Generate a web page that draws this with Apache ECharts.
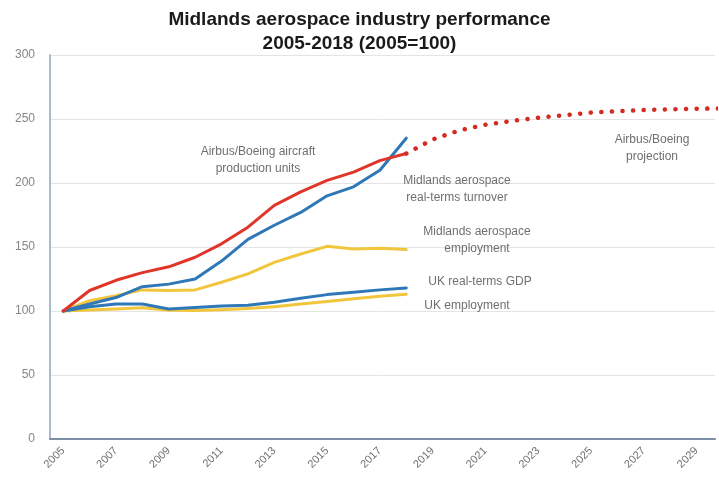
<!DOCTYPE html>
<html>
<head>
<meta charset="utf-8">
<script src="https://cdn.jsdelivr.net/npm/echarts@6/dist/echarts.min.js"></script>
<style>html,body{margin:0;padding:0;background:#fff}#c{width:719px;height:482px}</style>
</head>
<body>
<div id="c"></div>
<script>
var years = [2005,2006,2007,2008,2009,2010,2011,2012,2013,2014,2015,2016,2017,2018];
var projYears = [2018,2019,2020,2021,2022,2023,2024,2025,2026,2027,2028,2029,2030];
var tickYears = [2005,2007,2009,2011,2013,2015,2017,2019,2021,2023,2025,2027,2029];

var airbusBoeing = [100,116,124,130,134.5,142,152.5,165.5,182.5,193,202,208.5,217.5,223];
var airbusProjection = [223,234,241,245.5,248.5,251,253,255,256,257,257.5,258,258.3];
var midlandsTurnover = [100,105.5,110.5,119,121,125,139,156,167,177,190,197,210,235];
var midlandsEmployment = [100,108,112,116.5,116,116.5,122.5,129,138,144.5,150.5,148.5,149,148];
var ukGDP = [100,103.4,105.5,105.5,101.5,102.8,104,104.5,106.8,110,112.8,114.6,116.5,118];
var ukEmployment = [100,100.8,101.5,102.6,100.5,100.3,101,102,103.3,105.5,107.5,109.5,111.5,113];

var annotations = [
  {text: 'Airbus/Boeing aircraft\nproduction units', x: 258, y: 160},
  {text: 'Midlands aerospace\nreal-terms turnover', x: 457, y: 189},
  {text: 'Midlands aerospace\nemployment', x: 477, y: 240},
  {text: 'UK real-terms GDP', x: 480, y: 282},
  {text: 'UK employment', x: 467, y: 306},
  {text: 'Airbus/Boeing\nprojection', x: 652, y: 148}
];

function pairs(xs, ys){ return xs.map(function(x,i){ return [x, ys[i]]; }); }

var RED = '#e0362a', BLUE = '#2f78b8', YEL = '#f2c63c';
var FONT = 'Liberation Sans, Arial, sans-serif';

function solid(name, data, color, z){
  return {name: name, type: 'line', data: pairs(years, data), symbol: 'none', smooth: false,
    lineStyle: {color: color, width: 3, cap: 'round', join: 'round'}, z: z, silent: true, animation: false};
}

var chart = echarts.init(document.getElementById('c'), null, {renderer: 'canvas'});
chart.setOption({
  animation: false,
  backgroundColor: '#ffffff',
  title: {
    text: 'Midlands aerospace industry performance\n2005-2018 (2005=100)',
    left: 'center', top: 3,
    textStyle: {fontFamily: FONT, fontSize: 19, fontWeight: 'bold', color: '#1a1a1a', lineHeight: 24}
  },
  grid: {left: 50, right: 4, top: 55, bottom: 43, containLabel: false},
  xAxis: {
    type: 'value', min: 2004.5, max: 2029.7,
    splitLine: {show: false},
    axisLine: {show: true, lineStyle: {color: '#7d8ea8', width: 2}},
    axisTick: {show: false},
    axisLabel: {
      customValues: tickYears, rotate: 45, color: '#707070', fontSize: 11, fontFamily: FONT,
      margin: 10, formatter: function(v){ return String(v); }
    }
  },
  yAxis: {
    type: 'value', min: 0, max: 300, interval: 50,
    axisLine: {show: true, lineStyle: {color: '#a9bbd0', width: 2}},
    axisTick: {show: false},
    splitLine: {show: true, lineStyle: {color: '#e4e4e4', width: 1}},
    axisLabel: {color: '#858585', fontSize: 12, fontFamily: FONT, margin: 15}
  },
  series: [
    solid('UK employment', ukEmployment, YEL, 2),
    solid('UK real-terms GDP', ukGDP, BLUE, 3),
    solid('Midlands aerospace employment', midlandsEmployment, YEL, 4),
    solid('Midlands aerospace real-terms turnover', midlandsTurnover, BLUE, 5),
    solid('Airbus/Boeing aircraft production units', airbusBoeing, RED, 6),
    {name: 'Airbus/Boeing projection', type: 'line', data: pairs(projYears, airbusProjection),
      symbol: 'none', clip: true, silent: true,
      lineStyle: {color: '#d42a22', width: 4.5, type: [0.1, 10.5], cap: 'round'}, z: 6}
  ],
  graphic: annotations.map(function(a){
    return {type: 'text', x: a.x, y: a.y, silent: true, z: 10,
      style: {text: a.text, fill: '#6f6f6f', font: '12px ' + FONT,
        align: 'center', verticalAlign: 'middle', textAlign: 'center', textVerticalAlign: 'middle', lineHeight: 17}};
  })
});
</script>
</body>
</html>
